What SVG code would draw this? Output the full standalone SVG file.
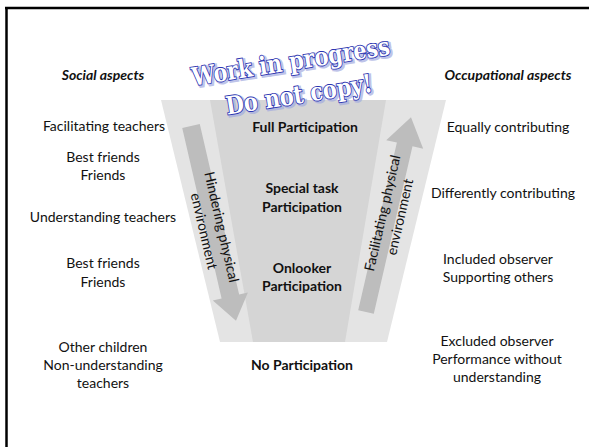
<svg xmlns="http://www.w3.org/2000/svg" width="589" height="447" viewBox="0 0 589 447">
<style>
.t{font-family:Lato,"Liberation Sans",Arial,sans-serif;font-size:14px;fill:#111;text-anchor:middle}
.b{font-weight:bold}
.h{font-weight:bold;font-style:italic}
.wm{font-family:"DejaVu Serif","Liberation Serif",serif;font-weight:bold;font-size:25px;text-anchor:middle;fill:#fff;stroke:#2a33b0;stroke-width:1.8;paint-order:stroke}
.wms{font-family:"DejaVu Serif","Liberation Serif",serif;font-weight:bold;font-size:25px;text-anchor:middle;fill:none;stroke:#a4abe0;stroke-width:3.5;opacity:0.7}
.arr{fill:#bdbdbd}
</style>
<rect width="589" height="447" fill="#fff"/>
<g id="frame">
<line x1="5" y1="8" x2="589" y2="8" stroke="#000" stroke-width="2.5"/>
<line x1="6.5" y1="7" x2="6.5" y2="447" stroke="#000" stroke-width="2.5"/>
</g>
<g id="funnel">
<polygon points="161,100 446,100 387,342 220,342" fill="#e4e4e4"/>
<polygon points="210,100 386,100 345,342 253,342" fill="#d5d5d5"/>
</g>
<g id="connectors">
<path class="arr" transform="translate(191,126) rotate(-13)" d="M-9,0 L9,0 L9,175 L18,175 L0,200 L-18,175 L-9,175 Z"/>
<path class="arr" transform="translate(366,312) rotate(13)" d="M-8,0 L8,0 L8,-172 L19,-172 L0,-200 L-19,-172 L-8,-172 Z"/>
</g>
<g id="hindering" transform="translate(213,229) rotate(77)">
<text class="t" x="0" y="-4">Hindering physical</text>
<text class="t" x="0" y="14">environment</text>
</g>
<g id="facilitating" transform="translate(391,215) rotate(-77)">
<text class="t" x="0" y="-4">Facilitating physical</text>
<text class="t" x="0" y="14">environment</text>
</g>
<g id="social-header"><text class="t h" x="103" y="80">Social aspects</text></g>
<g id="occupational-header"><text class="t h" x="508" y="80">Occupational aspects</text></g>
<g id="full"><text class="t b" x="305" y="132">Full Participation</text></g>
<g id="special"><text class="t b" x="302" y="193">Special task</text><text class="t b" x="302" y="212">Participation</text></g>
<g id="onlooker"><text class="t b" x="302" y="273">Onlooker</text><text class="t b" x="302" y="291">Participation</text></g>
<g id="none"><text class="t b" x="302" y="370">No Participation</text></g>
<g id="s1"><text class="t" x="104" y="131">Facilitating teachers</text></g>
<g id="s2"><text class="t" x="103" y="162">Best friends</text><text class="t" x="103" y="180">Friends</text></g>
<g id="s3"><text class="t" x="103" y="222">Understanding teachers</text></g>
<g id="s4"><text class="t" x="103" y="268">Best friends</text><text class="t" x="103" y="287">Friends</text></g>
<g id="s5"><text class="t" x="103" y="352">Other children</text><text class="t" x="103" y="370">Non-understanding</text><text class="t" x="103" y="388">teachers</text></g>
<g id="o1"><text class="t" x="508" y="132">Equally contributing</text></g>
<g id="o2"><text class="t" x="503" y="198">Differently contributing</text></g>
<g id="o3"><text class="t" x="498" y="264">Included observer</text><text class="t" x="498" y="282">Supporting others</text></g>
<g id="o4"><text class="t" x="497" y="346">Excluded observer</text><text class="t" x="497" y="364">Performance without</text><text class="t" x="497" y="382">understanding</text></g>
<g id="watermark" transform="translate(292,70) rotate(-9)">
<text class="wms" x="1.5" y="1.5" textLength="200" lengthAdjust="spacingAndGlyphs">Work in progress</text>
<text class="wms" x="4.5" y="35.5" textLength="148" lengthAdjust="spacingAndGlyphs">Do not copy!</text>
<text class="wm" x="0" y="0" textLength="200" lengthAdjust="spacingAndGlyphs">Work in progress</text>
<text class="wm" x="3" y="34" textLength="148" lengthAdjust="spacingAndGlyphs">Do not copy!</text>
</g>
</svg>
